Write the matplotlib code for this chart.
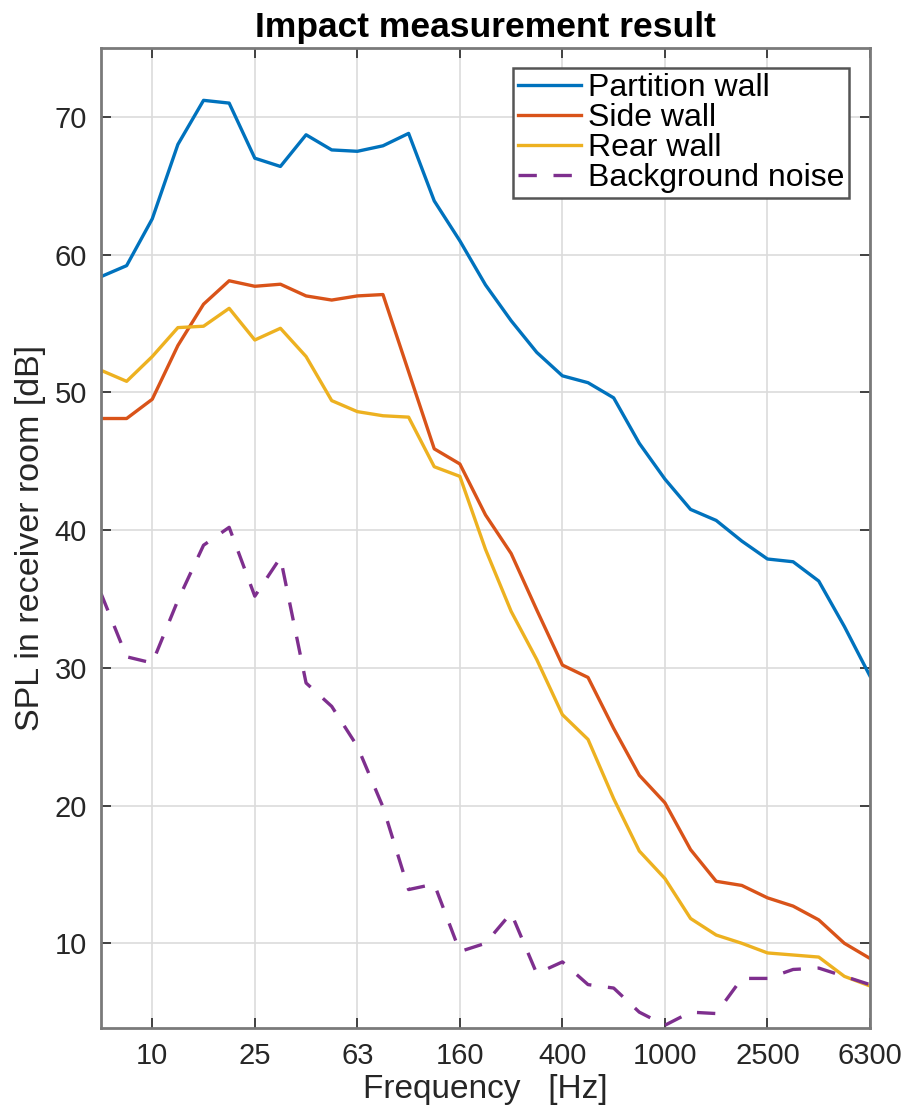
import numpy as np
import matplotlib
matplotlib.use("Agg")
import matplotlib.pyplot as plt

plt.rcParams['font.family'] = ['Liberation Sans', 'DejaVu Sans']

# third-octave band centres [Hz]
bands = [6.3, 8, 10, 12.5, 16, 20, 25, 31.5, 40, 50, 63, 80, 100, 125, 160, 200,
         250, 315, 400, 500, 630, 800, 1000, 1250, 1600, 2000, 2500, 3150, 4000,
         5000, 6300]
tick_bands = [10, 25, 63, 160, 400, 1000, 2500, 6300]

partition = [58.4, 59.2, 62.6, 68.0, 71.2, 71.0, 67.0, 66.4, 68.7, 67.6, 67.5,
             67.9, 68.8, 63.9, 61.0, 57.8, 55.2, 52.9, 51.2, 50.7, 49.6, 46.3,
             43.7, 41.5, 40.7, 39.2, 37.9, 37.7, 36.3, 33.0, 29.4]
side = [48.1, 48.1, 49.5, 53.4, 56.4, 58.1, 57.7, 57.85, 57.0, 56.7, 57.0,
        57.1, 51.5, 45.9, 44.8, 41.1, 38.3, 34.2, 30.2, 29.3, 25.6, 22.2,
        20.2, 16.8, 14.5, 14.2, 13.3, 12.7, 11.7, 10.0, 8.9]
rear = [51.6, 50.8, 52.6, 54.7, 54.8, 56.1, 53.8, 54.65, 52.6, 49.4, 48.6,
        48.3, 48.2, 44.6, 43.9, 38.6, 34.1, 30.6, 26.6, 24.8, 20.5, 16.7,
        14.7, 11.8, 10.6, 10.0, 9.3, 9.15, 9.0, 7.6, 6.9]
background = [35.4, 30.8, 30.35, 34.9, 38.9, 40.2, 35.2, 38.0, 28.9, 27.2,
              24.3, 19.9, 13.9, 14.3, 9.4, 10.0, 12.2, 7.8, 8.65, 7.0, 6.75,
              5.0, 4.05, 5.0, 4.9, 7.45, 7.45, 8.1, 8.2, 7.6, 7.0]

idx = np.arange(len(bands))
tick_idx = [bands.index(b) for b in tick_bands]

gray = (0.15, 0.15, 0.15)
fig = plt.figure(figsize=(9.12, 11.10), dpi=100)
ax = fig.add_axes([101 / 912, 1 - 1028 / 1110, 769 / 912, 980 / 1110])

lw = 2.4
ax.plot(idx, partition, color='#0072BD', lw=lw, label='Partition wall')
ax.plot(idx, side, color='#D95319', lw=lw, label='Side wall')
ax.plot(idx, rear, color='#EDB120', lw=lw, label='Rear wall')
ax.plot(idx, background, color='#7E2F8E', lw=lw, dashes=(5.5, 5),
        label='Background noise')

ax.set_xlim(0, len(bands) - 1)
ax.set_ylim(3.85, 75)
ax.set_xticks(tick_idx)
ax.set_xticklabels([str(b) for b in tick_bands])
ax.set_yticks(np.arange(10, 71, 10))

ax.grid(True, color='#dcdcdc', lw=1.2)
ax.set_axisbelow(True)
ax.tick_params(direction='in', length=7, width=1.2, colors=gray,
               labelsize=21, top=True, right=True, pad=10)
for sp in ax.spines.values():
    sp.set_color('#7a7a7a')
    sp.set_linewidth(2)

ax.set_xlabel('Frequency   [Hz]', fontsize=24, color=gray, labelpad=3)
ax.set_ylabel('SPL in receiver room [dB]', fontsize=24.5, color=gray,
              labelpad=6)
ax.set_title('Impact measurement result', fontsize=25.5, fontweight='bold',
             pad=8)

leg = ax.legend(loc='upper right',
                bbox_to_anchor=((849 - 101) / 769, (1028 - 68) / 980),
                borderaxespad=0, fontsize=23, handlelength=2.0,
                handletextpad=0.2, labelspacing=0.0, borderpad=0.15,
                fancybox=False, framealpha=1)
leg.get_frame().set_edgecolor('#555555')
leg.get_frame().set_linewidth(1.8)

fig.savefig('out.png', dpi=100)
